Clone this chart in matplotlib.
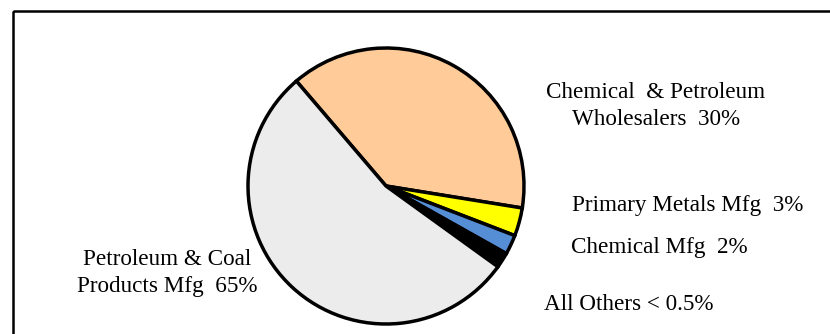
import matplotlib.pyplot as plt
from matplotlib.patches import Rectangle

plt.rcParams["font.family"] = ["Liberation Serif", "DejaVu Serif"]

# slice shares as drawn in the picture (labels carry the published figures)
sectors = ["Chemical & Petroleum Wholesalers", "Primary Metals Mfg", "Chemical Mfg",
           "All Others", "Petroleum & Coal Products Mfg"]
shares = [38.8, 3.3, 2.3, 1.8, 53.8]
colors = ["#ffcc99", "#ffff00", "#558ed5", "#000000", "#ececec"]

labels = ["Chemical  & Petroleum\nWholesalers  30%", "Primary Metals Mfg  3%",
          "Chemical Mfg  2%", "All Others < 0.5%", "Petroleum & Coal\nProducts Mfg  65%"]
label_pos = [(656, 106, "center"), (572, 205, "left"), (571, 248, "left"),
             (544, 304, "left"), (167, 273, "center")]

fig = plt.figure(figsize=(8.3, 3.34), dpi=100)
ax = fig.add_axes([0, 0, 1, 1])

ax.add_patch(Rectangle((13, 11), 840, 340, fill=False, edgecolor="black", linewidth=1.8))

ax.pie(shares, colors=colors, startangle=-130.5, counterclock=True,
       center=(386, 186), radius=138, frame=True,
       wedgeprops=dict(edgecolor="black", linewidth=2.5))
ax.set_xlim(0, 830)
ax.set_ylim(334, 0)
ax.set_aspect("equal")
ax.axis("off")

for text, (x, y, ha) in zip(labels, label_pos):
    ax.text(x, y, text, ha=ha, va="center", fontsize=16.7, linespacing=1.38)

plt.savefig("out.png", dpi=100)
plt.close()
